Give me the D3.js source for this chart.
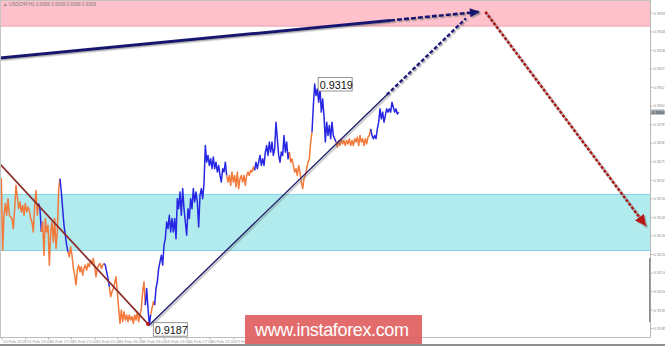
<!DOCTYPE html>
<html>
<head>
<meta charset="utf-8">
<script src="https://cdn.jsdelivr.net/npm/d3@7"></script>
<style>
body { margin: 0; background: #fff; }
svg { display: block; }
</style>
</head>
<body>
<div id="svg_div"><svg></svg></div>
<script>
// price series, one value per bar
var prices = [
	0.92580, 0.92671, 0.92280, 0.92471, 0.92535, 0.92471, 0.92562, 0.92471, 0.92462, 0.92453,
	0.92398, 0.92507, 0.92635, 0.92571, 0.92507, 0.92544, 0.92489, 0.92525, 0.92471, 0.92535,
	0.92489, 0.92516, 0.92498, 0.92453, 0.92434, 0.92380, 0.92525, 0.92607, 0.92471, 0.92535,
	0.92507, 0.92380, 0.92434, 0.92252, 0.92453, 0.92380, 0.92416, 0.92198, 0.92380, 0.92434,
	0.92325, 0.92453, 0.92289, 0.92380, 0.92617, 0.92671, 0.92598, 0.92507, 0.92416, 0.92362,
	0.92307, 0.92271, 0.92243, 0.92298, 0.92252, 0.92180, 0.92143, 0.92089, 0.92170, 0.92198,
	0.92161, 0.92189, 0.92143, 0.92180, 0.92198, 0.92170, 0.92207, 0.92189, 0.92225, 0.92207,
	0.92234, 0.92189, 0.92134, 0.92180, 0.92198, 0.92207, 0.92180, 0.92198, 0.92207, 0.92198,
	0.92161, 0.92125, 0.92079, 0.92025, 0.92052, 0.92070, 0.92098, 0.92134, 0.92052, 0.91961,
	0.91879, 0.91952, 0.91888, 0.91943, 0.91897, 0.91925, 0.91888, 0.91925, 0.91897, 0.91916,
	0.91879, 0.91925, 0.91897, 0.91943, 0.91888, 0.91925, 0.91961, 0.92052, 0.92107, 0.91979,
	0.92070, 0.91961, 0.91870, 0.91925, 0.91961, 0.91997, 0.91979, 0.92070, 0.92107, 0.92180,
	0.92216, 0.92252, 0.92198, 0.92307, 0.92343, 0.92434, 0.92398, 0.92471, 0.92380, 0.92453,
	0.92380, 0.92453, 0.92343, 0.92562, 0.92507, 0.92598, 0.92471, 0.92617, 0.92507, 0.92434,
	0.92362, 0.92507, 0.92453, 0.92562, 0.92507, 0.92617, 0.92544, 0.92598, 0.92544, 0.92407,
	0.92580, 0.92617, 0.92562, 0.92644, 0.92853, 0.92762, 0.92799, 0.92744, 0.92780, 0.92726,
	0.92790, 0.92726, 0.92762, 0.92708, 0.92744, 0.92689, 0.92653, 0.92726, 0.92708, 0.92762,
	0.92689, 0.92653, 0.92689, 0.92635, 0.92708, 0.92653, 0.92689, 0.92626, 0.92708, 0.92617,
	0.92671, 0.92689, 0.92653, 0.92689, 0.92635, 0.92689, 0.92708, 0.92689, 0.92717, 0.92708,
	0.92735, 0.92717, 0.92762, 0.92726, 0.92762, 0.92799, 0.92744, 0.92780, 0.92744, 0.92817,
	0.92853, 0.92799, 0.92872, 0.92817, 0.92872, 0.92799, 0.92835, 0.92981, 0.92890, 0.92799,
	0.92762, 0.92817, 0.92799, 0.92908, 0.92817, 0.92872, 0.92780, 0.92817, 0.92762, 0.92780,
	0.92744, 0.92708, 0.92726, 0.92689, 0.92744, 0.92708, 0.92653, 0.92617, 0.92671, 0.92689,
	0.92726, 0.92762, 0.92780, 0.92872, 0.92926, 0.93072, 0.93190, 0.93127, 0.93163, 0.93090,
	0.93163, 0.93036, 0.93108, 0.93017, 0.92872, 0.92981, 0.92908, 0.92963, 0.92890, 0.92981,
	0.92908, 0.92890, 0.92872, 0.92844, 0.92881, 0.92853, 0.92890, 0.92862, 0.92881, 0.92853,
	0.92881, 0.92862, 0.92890, 0.92853, 0.92881, 0.92853, 0.92890, 0.92872, 0.92899, 0.92853,
	0.92908, 0.92872, 0.92890, 0.92853, 0.92890, 0.92862, 0.92899, 0.92908, 0.92944, 0.92908,
	0.92890, 0.92908, 0.92890, 0.92944, 0.92981, 0.93054, 0.92999, 0.93036, 0.92981, 0.93017,
	0.93054, 0.93036, 0.93054, 0.93036, 0.93090, 0.93063, 0.93036, 0.93054, 0.93026, 0.93036
];
// colour runs of the line (bar where each run starts)
var runStarts = [0, 29, 31, 45, 51, 78, 82, 109, 113, 116, 170, 191, 217, 234, 252, 278];
var runDirs = ["down", "up", "down", "up", "down", "up", "down", "up", "down", "up", "down", "up", "down", "up", "down", "up"];

// axis labels
var yTicks = [0.93580, 0.93478, 0.93377, 0.93275, 0.93174, 0.93072, 0.92970, 0.92869, 0.92767,
	0.92666, 0.92564, 0.92462, 0.92361, 0.92259, 0.92158, 0.92056, 0.91954, 0.91853];
var xTickBars = [1, 19, 36, 53, 71, 88, 105, 123, 140, 157, 175, 192, 209, 227, 244, 261, 279, 296];
var xTickLabels = ["15 Feb 2018", "15 Feb 13:00", "15 Feb 17:00", "15 Feb 21:00", "16 Feb 01:00",
	"16 Feb 05:00", "16 Feb 09:00", "16 Feb 13:00", "16 Feb 17:00", "16 Feb 21:00", "19 Feb 01:00",
	"19 Feb 05:00", "19 Feb 09:00", "19 Feb 13:00", "19 Feb 17:00", "19 Feb 21:00", "20 Feb 01:00",
	"20 Feb 05:00"];
var title = "\u25B2 USDCHF,H1  0.9306 0.9309 0.9306 0.9309";
var lastPrice = 0.93036;

// target zones
var zoneHigh = [0.93507, 0.93650];
var zoneLow = [0.92278, 0.92585];

// wave marks and forecast arrows: [bar, price]
var waveDown = [[0, 0.92752], [111, 0.91876]];
var waveUp = [[112, 0.91870], [290, 0.93130]];
var waveUpNext = [[290, 0.93130], [349.5, 0.93550]];
var bigArrow = [[0, 0.93332], [292.5, 0.93538]];
var bigArrowNext = [[292.5, 0.93538], [360, 0.93586]];
var forecastDown = [[364, 0.93586], [484.5, 0.92412]];
var extremes = [
	{bar: 236, price: 0.9319, label: "0.9319", dx: 3.5, dy: -6.5},
	{bar: 112, price: 0.9187, label: "0.9187", dx: 4, dy: -2.3}
];

var w = 665, h = 346;
var plotRight = 650, axisY = 337.5;
var xScale = d3.scaleLinear().domain([0, 299]).range([0, 398.67]);
var yScale = d3.scaleLinear().domain([0.9187, 0.9319]).range([325, 84]);

var svg = d3.select("#svg_div").select("svg")
	.attr("width", w)
	.attr("height", h)
	.style("font-family", "'Liberation Sans', Arial, sans-serif");

var defs = svg.append("defs");
defs.append("filter")
	.attr("id", "shadow")
	.attr("filterUnits", "userSpaceOnUse")
	.attr("x", 0).attr("y", 0).attr("width", w).attr("height", h)
	.append("feDropShadow")
	.attr("dx", 1.4).attr("dy", 1.4)
	.attr("stdDeviation", 0.7)
	.attr("flood-color", "#6f6f6f")
	.attr("flood-opacity", 0.55);

svg.append("rect").attr("width", w).attr("height", h).attr("fill", "#fff");

// zones
function drawZone(z, fill, edge) {
	var yTop = Math.max(0, yScale(z[1]));
	var yBot = yScale(z[0]);
	svg.append("rect")
		.attr("x", 0).attr("y", yTop)
		.attr("width", plotRight).attr("height", yBot - yTop)
		.attr("fill", fill);
	[yTop, yBot].forEach(function(yy) {
		if (yy <= 0.5) return;
		svg.append("line")
			.attr("x1", 0).attr("x2", plotRight)
			.attr("y1", yy).attr("y2", yy)
			.attr("stroke", edge).attr("stroke-width", 1);
	});
}
drawZone(zoneHigh, "#ffc1cb", "#eea3ad");
drawZone(zoneLow, "#b2ebed", "#88cfe6");

// price line
var line = d3.line()
	.x(function(d) { return xScale(d[0]); })
	.y(function(d) { return yScale(d[1]); });

for (var r = 0; r < runStarts.length; r++) {
	var from = runStarts[r];
	var to = r + 1 < runStarts.length ? runStarts[r + 1] : prices.length - 1;
	var pts = [];
	for (var i = from; i <= to; i++) pts.push([i, prices[i]]);
	svg.append("path")
		.attr("d", line(pts))
		.attr("fill", "none")
		.attr("stroke", runDirs[r] == "up" ? "#2727e3" : "#f2793a")
		.attr("stroke-width", 1.5)
		.attr("stroke-linejoin", "round");
}

// arrow head at the end of a segment
function arrowHead(seg, len, half, color) {
	var x1 = xScale(seg[0][0]), y1 = yScale(seg[0][1]);
	var x2 = xScale(seg[1][0]), y2 = yScale(seg[1][1]);
	var a = Math.atan2(y2 - y1, x2 - x1);
	var bx = x2 - len * Math.cos(a), by = y2 - len * Math.sin(a);
	var px = -Math.sin(a) * half, py = Math.cos(a) * half;
	svg.append("path")
		.attr("d", "M" + x2 + "," + y2 + "L" + (bx + px) + "," + (by + py) + "L" + (bx - px) + "," + (by - py) + "Z")
		.attr("fill", color)
		.attr("filter", "url(#shadow)");
}

function drawSeg(seg, color, width, dash) {
	svg.append("path")
		.attr("d", line(seg))
		.attr("fill", "none")
		.attr("stroke", color)
		.attr("stroke-width", width)
		.attr("stroke-dasharray", dash || null)
		.attr("filter", "url(#shadow)");
}

drawSeg(waveDown, "#8e1c1c", 1.5);
svg.append("circle")
	.attr("cx", xScale(waveDown[1][0]))
	.attr("cy", yScale(waveDown[1][1]))
	.attr("r", 2)
	.attr("fill", "#c01818");
drawSeg(waveUp, "#1c1c6e", 1.4);
drawSeg(waveUpNext, "#1c1c7a", 2.4, "4,2");
drawSeg(bigArrow, "#191970", 3);
drawSeg(bigArrowNext, "#191970", 2.6, "5,2");
arrowHead(bigArrowNext, 10, 4.5, "#191970");
drawSeg(forecastDown, "#a81616", 2.6, "3,1.6");
arrowHead(forecastDown, 11, 5.5, "#b81414");

// boxed extreme labels
extremes.forEach(function(e) {
	var bx = xScale(e.bar) + e.dx, by = yScale(e.price) + e.dy;
	svg.append("rect")
		.attr("x", bx).attr("y", by)
		.attr("width", 34).attr("height", 13.5)
		.attr("fill", "#fff")
		.attr("stroke", "#7a7a7a")
		.attr("stroke-width", 0.8);
	svg.append("text")
		.attr("x", bx + 1.5).attr("y", by + 11)
		.attr("font-size", 10.8)
		.attr("fill", "#111")
		.text(e.label);
});

// frame
svg.append("line").attr("x1", 0.5).attr("x2", 0.5).attr("y1", 0).attr("y2", axisY)
	.attr("stroke", "#c4c4c4");
svg.append("line").attr("x1", 0).attr("x2", plotRight).attr("y1", 0.5).attr("y2", 0.5)
	.attr("stroke", "#c4c4c4");
svg.append("line").attr("x1", plotRight + 0.5).attr("x2", plotRight + 0.5).attr("y1", 0).attr("y2", axisY)
	.attr("stroke", "#b8b8b8");
svg.append("rect").attr("x", plotRight - 1).attr("y", 258).attr("width", 1.6).attr("height", 64)
	.attr("fill", "#8c8c8c");
svg.append("line").attr("x1", 0).attr("x2", plotRight).attr("y1", axisY).attr("y2", axisY)
	.attr("stroke", "#bdbdbd");

// right price axis
var yAxis = d3.axisRight(yScale)
	.tickValues(yTicks)
	.tickSize(2)
	.tickFormat(d3.format(".4f"));
var gy = svg.append("g")
	.attr("transform", "translate(" + (plotRight + 0.5) + ",0)")
	.call(yAxis);
gy.select(".domain").remove();
gy.selectAll("line").attr("stroke", "#b0b0b0");
gy.selectAll("text")
	.attr("x", 3)
	.attr("font-size", 4.2)
	.attr("fill", "#8a8a8a");

var ly = yScale(lastPrice);
svg.append("rect")
	.attr("x", plotRight + 0.5).attr("y", ly - 2.6)
	.attr("width", 14).attr("height", 5.2)
	.attr("fill", "#a3abb3");
svg.append("text")
	.attr("x", plotRight + 2).attr("y", ly + 1.5)
	.attr("font-size", 4.2)
	.attr("fill", "#30343a")
	.text(d3.format(".4f")(lastPrice));

// bottom time axis
var xAxis = d3.axisBottom(xScale)
	.tickValues(xTickBars)
	.tickSize(2)
	.tickFormat(function(d, i) { return xTickLabels[i]; });
var gx = svg.append("g")
	.attr("transform", "translate(0," + axisY + ")")
	.call(xAxis);
gx.select(".domain").remove();
gx.selectAll("line").attr("stroke", "#b0b0b0");
gx.selectAll("text")
	.attr("text-anchor", "start")
	.attr("x", 1)
	.attr("y", 3)
	.attr("dy", "0.71em")
	.attr("font-size", 4.2)
	.attr("fill", "#9a9a9a");

svg.append("rect").attr("x", 0).attr("y", 344).attr("width", w).attr("height", 2)
	.attr("fill", "#8f8f8f");

// title
svg.append("text")
	.attr("x", 3).attr("y", 5.6)
	.attr("font-size", 4.6)
	.attr("fill", "#7a7a7a")
	.text(title);

// watermark
svg.append("rect")
	.attr("x", 245).attr("y", 315)
	.attr("width", 177).attr("height", 29)
	.attr("fill", "#df5c5c")
	.attr("opacity", 0.9);
svg.append("text")
	.attr("x", 255).attr("y", 335.5)
	.attr("font-size", 18)
	.attr("textLength", 154)
	.attr("fill", "#fff")
	.text("www.instaforex.com");
</script>
</body>
</html>
